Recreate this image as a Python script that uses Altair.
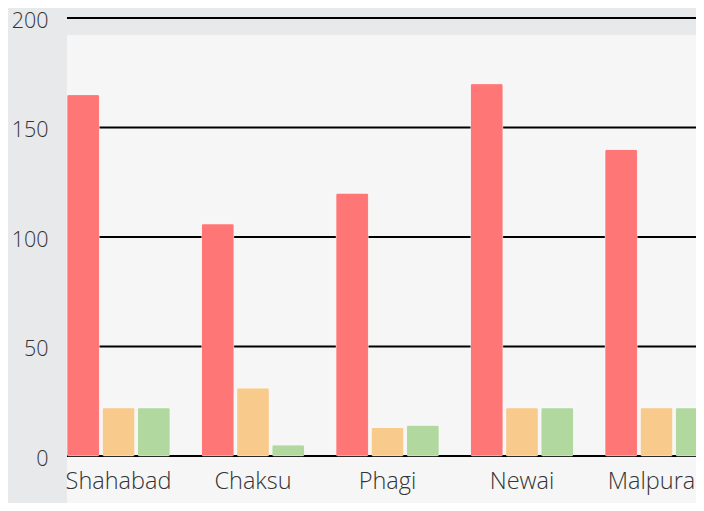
import altair as alt
import pandas as pd

districts = ["Shahabad", "Chaksu", "Phagi", "Newai", "Malpura"]
series_names = ["A", "B", "C"]
series_a = [165, 106, 120, 170, 140]
series_b = [22, 31, 13, 22, 22]
series_c = [22, 5, 14, 22, 22]
colors = ["#ff7676", "#f8ca8c", "#b1d89f"]
ticks = [0, 50, 100, 150, 200]

rows = []
for i, d in enumerate(districts):
    for s, vals in zip(series_names, [series_a, series_b, series_c]):
        rows.append({"district": d, "series": s, "value": vals[i]})
df = pd.DataFrame(rows)

W = 629
H = 438

bg = alt.Chart(pd.DataFrame({"a": [0]})).mark_rect(color="#f6f6f6").encode(
    x=alt.value(0), x2=alt.value(W), y=alt.value(17), y2=alt.value(H + 60)
)

grid = alt.Chart(pd.DataFrame({"t": ticks})).mark_rule(color="black", strokeWidth=2).encode(
    y=alt.Y("t:Q", scale=alt.Scale(domain=[0, 200])),
    x=alt.value(0),
    x2=alt.value(W),
)

bars = alt.Chart(df).mark_bar(cornerRadius=2, stroke="#ffffff", strokeOpacity=0.35, strokeWidth=1).encode(
    x=alt.X(
        "district:N",
        sort=districts,
        scale=alt.Scale(range=[0, 641], paddingInner=0.234, paddingOuter=0),
        axis=alt.Axis(
            title=None, labelAngle=0, ticks=False, domain=False, grid=False,
            labelFontSize=23.5, labelFont="Open Sans", labelFontWeight=300,
            labelColor="#333333", labelPadding=13, zindex=2,
            labelOffset={"condition": {"test": "datum.label == 'Malpura'", "value": -5}, "value": 0},
        ),
    ),
    xOffset=alt.XOffset("series:N", sort=series_names, scale=alt.Scale(paddingInner=0.08, paddingOuter=0)),
    y=alt.Y(
        "value:Q",
        scale=alt.Scale(domain=[0, 200]),
        axis=alt.Axis(
            title=None, values=ticks, ticks=False, domain=False, grid=False,
            labelFontSize=21.5, labelFont="Open Sans", labelFontWeight=300,
            labelColor="#333333", labelPadding=19, labelOffset=3, zindex=2,
        ),
    ),
    color=alt.Color("series:N", scale=alt.Scale(domain=series_names, range=colors), legend=None),
)

chart = alt.layer(bg, grid, bars).properties(
    width=W,
    height=H,
    background="#e8e9eb",
    padding={"left": 59, "top": 10, "right": 0, "bottom": 47},
    autosize=alt.AutoSizeParams(type="none"),
).configure_view(stroke=None)

chart.save("out.html", embed_options={"renderer": "svg", "actions": False})
